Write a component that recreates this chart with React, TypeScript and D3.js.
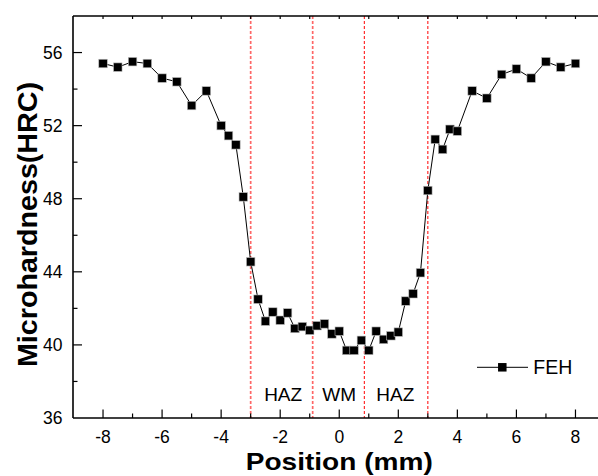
import React, { useRef, useEffect } from "react";
import * as d3 from "d3";

// hardness profile across the weld
const positions = [
  -8, -7.5, -7, -6.5, -6, -5.5, -5, -4.5, -4, -3.75, -3.5, -3.25, -3, -2.75,
  -2.5, -2.25, -2, -1.75, -1.5, -1.25, -1, -0.75, -0.5, -0.25, 0, 0.25, 0.5,
  0.75, 1, 1.25, 1.5, 1.75, 2, 2.25, 2.5, 2.75, 3, 3.25, 3.5, 3.75, 4, 4.5, 5,
  5.5, 6, 6.5, 7, 7.5, 8,
];
const hardness = [
  55.4, 55.2, 55.5, 55.4, 54.6, 54.4, 53.1, 53.9, 52.0, 51.45, 50.95, 48.1,
  44.55, 42.5, 41.3, 41.8, 41.35, 41.75, 40.9, 41.0, 40.8, 41.05, 41.15, 40.6,
  40.75, 39.7, 39.7, 40.25, 39.7, 40.75, 40.3, 40.5, 40.7, 42.4, 42.8, 43.95,
  48.45, 51.25, 50.7, 51.8, 51.7, 53.9, 53.5, 54.8, 55.1, 54.6, 55.5, 55.2,
  55.4,
];

const xMajor = [-8, -6, -4, -2, 0, 2, 4, 6, 8];
const yMajor = [36, 40, 44, 48, 52, 56];
const zoneBounds = [-3, -0.9, 0.85, 3];
const zoneLabels = [
  { name: "HAZ", at: -1.9 },
  { name: "WM", at: 0 },
  { name: "HAZ", at: 1.9 },
];
const seriesName = "FEH";

const width = 598;
const height = 476;
const font = "Arial, 'Liberation Sans', sans-serif";

const HardnessChart = () => {
  const ref = useRef<SVGSVGElement>(null);

  useEffect(() => {
    const svg = d3.select(ref.current);
    svg.selectAll("*").remove();

    const x = d3.scaleLinear().domain([-9, 9]).range([73.5, 605]);
    const y = d3.scaleLinear().domain([36, 58]).range([418, 16]);
    const left = 73;
    const bottom = y(36);
    const top = y(58);

    const data = positions.map((p, i) => ({ x: p, y: hardness[i] }));

    // zone boundaries
    zoneBounds.forEach((b, i) => {
      svg
        .append("line")
        .attr("x1", x(b))
        .attr("x2", x(b))
        .attr("y1", top)
        .attr("y2", bottom)
        .attr("stroke", i < 2 ? "#ff6666" : "#ff1a1a")
        .attr("stroke-width", i < 2 ? 1.7 : 1.1)
        .attr("stroke-dasharray", "3 2");
    });

    // frame lines
    const frame = [
      [left, bottom, width, bottom],
      [left, top, width, top],
      [left, top, left, bottom],
    ];
    frame.forEach(([x1, y1, x2, y2]) => {
      svg
        .append("line")
        .attr("x1", x1)
        .attr("x2", x2)
        .attr("y1", y1)
        .attr("y2", y2)
        .attr("stroke", "#000")
        .attr("stroke-width", 1.6);
    });

    // x ticks (inward), major every 2, minor every 1
    d3.range(-8, 10).forEach((v) => {
      const major = v % 2 === 0;
      svg
        .append("line")
        .attr("x1", x(v))
        .attr("x2", x(v))
        .attr("y1", bottom)
        .attr("y2", bottom - (major ? 8.5 : 4.5))
        .attr("stroke", "#000")
        .attr("stroke-width", 1.2);
      svg
        .append("line")
        .attr("x1", x(v))
        .attr("x2", x(v))
        .attr("y1", top)
        .attr("y2", top + 3)
        .attr("stroke", "#000")
        .attr("stroke-width", 1.2);
    });

    svg
      .append("g")
      .selectAll("text")
      .data(xMajor)
      .join("text")
      .attr("x", (d) => x(d))
      .attr("y", 443)
      .attr("text-anchor", "middle")
      .attr("font-family", font)
      .attr("font-size", 17.5)
      .text((d) => `${d}`);

    // y ticks
    d3.range(38, 58, 2).forEach((v) => {
      const major = v % 4 === 0;
      svg
        .append("line")
        .attr("x1", left)
        .attr("x2", left + (major ? 9 : 4.5))
        .attr("y1", y(v))
        .attr("y2", y(v))
        .attr("stroke", "#000")
        .attr("stroke-width", 1.2);
    });

    svg
      .append("g")
      .selectAll("text")
      .data(yMajor)
      .join("text")
      .attr("x", 62.5)
      .attr("y", (d) => y(d))
      .attr("dy", "0.36em")
      .attr("text-anchor", "end")
      .attr("font-family", font)
      .attr("font-size", 17.5)
      .text((d) => `${d}`);

    // axis titles
    svg
      .append("text")
      .attr("x", x(0))
      .attr("y", 470)
      .attr("text-anchor", "middle")
      .attr("font-family", font)
      .attr("font-weight", "bold")
      .attr("font-size", 24)
      .attr("textLength", 187)
      .attr("lengthAdjust", "spacingAndGlyphs")
      .text("Position (mm)");

    svg
      .append("text")
      .attr("transform", "rotate(-90)")
      .attr("x", -224.5)
      .attr("y", 36.5)
      .attr("text-anchor", "middle")
      .attr("font-family", font)
      .attr("font-weight", "bold")
      .attr("font-size", 28.5)
      .attr("textLength", 285)
      .attr("lengthAdjust", "spacingAndGlyphs")
      .text("Microhardness(HRC)");

    // zone labels
    svg
      .append("g")
      .selectAll("text")
      .data(zoneLabels)
      .join("text")
      .attr("x", (d) => x(d.at))
      .attr("y", 400.7)
      .attr("text-anchor", "middle")
      .attr("font-family", font)
      .attr("font-size", 19)
      .text((d) => d.name);

    // series
    const line = d3
      .line<{ x: number; y: number }>()
      .x((d) => x(d.x))
      .y((d) => y(d.y));

    svg
      .append("path")
      .datum(data)
      .attr("fill", "none")
      .attr("stroke", "#000")
      .attr("stroke-width", 1)
      .attr("d", line);

    const sq = 8.5;
    svg
      .append("g")
      .selectAll("rect")
      .data(data)
      .join("rect")
      .attr("x", (d) => x(d.x) - sq / 2)
      .attr("y", (d) => y(d.y) - sq / 2)
      .attr("width", sq)
      .attr("height", sq)
      .attr("fill", "#000")
      .attr("stroke", "#bbb")
      .attr("stroke-width", 0.6);

    // legend
    const lg = svg.append("g");
    lg.append("line")
      .attr("x1", 477)
      .attr("x2", 528)
      .attr("y1", 367.3)
      .attr("y2", 367.3)
      .attr("stroke", "#000")
      .attr("stroke-width", 1);
    lg.append("rect")
      .attr("x", 502.3 - sq / 2)
      .attr("y", 367.3 - sq / 2)
      .attr("width", sq)
      .attr("height", sq)
      .attr("fill", "#000");
    lg.append("text")
      .attr("x", 533.3)
      .attr("y", 374)
      .attr("font-family", font)
      .attr("font-size", 19.5)
      .text(seriesName);
  }, []);

  return (
    <svg
      ref={ref}
      width={width}
      height={height}
      style={{ position: "absolute", left: 0, top: 0, background: "#fff" }}
    ></svg>
  );
};

export default function App() {
  return <HardnessChart />;
}
